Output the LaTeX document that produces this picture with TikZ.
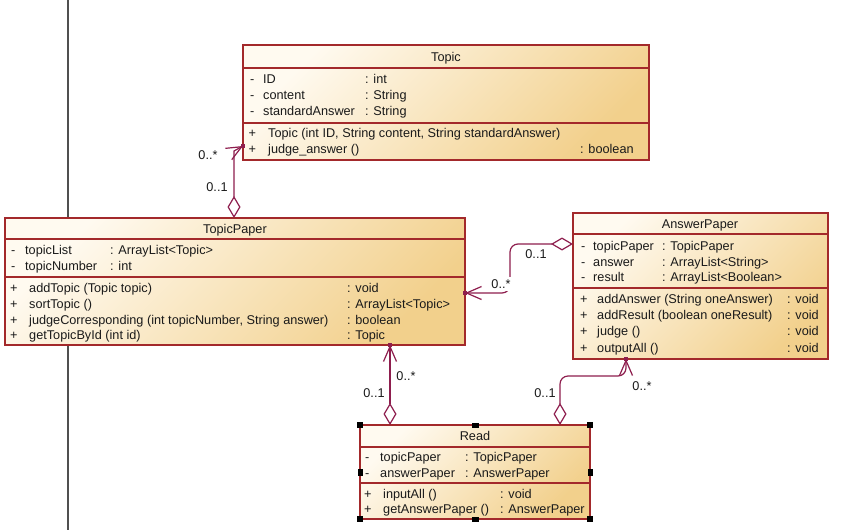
\documentclass[tikz,border=0pt]{standalone}
\usepackage{fontspec}
\setmainfont{Liberation Sans}
\usetikzlibrary{arrows.meta,calc}
\definecolor{bord}{HTML}{A3292B}
\definecolor{lnk}{HTML}{8E1E4E}
\definecolor{fillA}{HTML}{FFFAF0}
\definecolor{fillB}{HTML}{F2D08C}
\definecolor{txtc}{HTML}{1A1A1A}
\definecolor{vline}{HTML}{505050}
\begin{document}
\begin{tikzpicture}[x=1pt,y=-1pt,
  cls/.style={draw=bord, line width=1.3pt, top color=fillA, bottom color=fillB, shading angle=45, anchor=north west, inner sep=0pt, outer sep=0pt},
  sepline/.style={draw=bord, line width=1.3pt},
  t/.style={anchor=base west, inner sep=0pt, font=\fontsize{12.7}{14}\selectfont, text=txtc},
  hd/.style={anchor=base, inner sep=0pt, font=\fontsize{12.7}{14}\selectfont, text=txtc},
  lab/.style={anchor=center, inner sep=1pt, font=\fontsize{12.7}{14}\selectfont, text=txtc},
  agg/.style={draw=lnk, line width=1.2pt, rounded corners=8pt,
    {Diamond[fill=white,length=22pt,width=13pt]}-{Straight Barb[length=15pt,width=13pt]}},
  tipmark/.style={fill=lnk},
  handle/.style={fill=black}
]
\useasboundingbox (0,0) rectangle (842,530);
\fill[white] (0,0) rectangle (842,530);

% vertical gray line
\coordinate (vtop) at (68,0);
\coordinate (vbot) at (68,530);
\draw[vline, line width=1.4pt] (vtop) -- (vbot);

% ---------- Topic ----------
\node[cls, minimum width=406pt, minimum height=115pt] (T) at (243,45) {};
\draw[sepline] ($(T.north west)+(0,23)$) -- ($(T.north east)+(0,23)$);
\draw[sepline] ($(T.north west)+(0,78)$) -- ($(T.north east)+(0,78)$);
\node[hd] (Th) at (446,61.5) {Topic};
\node[t] (Ta1m) at (250,83.5) {-};
\node[t] (Ta1n) at (263,83.5) {ID};
\node[t] (Ta1t) at (365,83.5) {: int};
\node[t] (Ta2m) at (250,99.5) {-};
\node[t] (Ta2n) at (263,99.5) {content};
\node[t] (Ta2t) at (365,99.5) {: String};
\node[t] (Ta3m) at (250,115.5) {-};
\node[t] (Ta3n) at (263,115.5) {standardAnswer};
\node[t] (Ta3t) at (365,115.5) {: String};
\node[t] (Tm1p) at (248.5,137.5) {+};
\node[t] (Tm1n) at (268,137.5) {Topic (int ID, String content, String standardAnswer)};
\node[t] (Tm2p) at (248.5,153) {+};
\node[t] (Tm2n) at (268,153) {judge\_answer ()};
\node[t] (Tm2t) at (580,153) {: boolean};

% ---------- TopicPaper ----------
\node[cls, minimum width=460pt, minimum height=127pt] (TP) at (5,218) {};
\draw[sepline] ($(TP.north west)+(0,21)$) -- ($(TP.north east)+(0,21)$);
\draw[sepline] ($(TP.north west)+(0,59)$) -- ($(TP.north east)+(0,59)$);
\node[hd] (TPh) at (235,233.5) {TopicPaper};
\node[t] (TPa1m) at (11,254.5) {-};
\node[t] (TPa1n) at (25,254.5) {topicList};
\node[t] (TPa1t) at (110,254.5) {: ArrayList<Topic>};
\node[t] (TPa2m) at (11,270.5) {-};
\node[t] (TPa2n) at (25,270.5) {topicNumber};
\node[t] (TPa2t) at (110,270.5) {: int};
\node[t] (TPm1p) at (10,292.8) {+};
\node[t] (TPm1n) at (29,292.8) {addTopic (Topic topic)};
\node[t] (TPm1t) at (347,292.8) {: void};
\node[t] (TPm2p) at (10,308.6) {+};
\node[t] (TPm2n) at (29,308.6) {sortTopic ()};
\node[t] (TPm2t) at (347,308.6) {: ArrayList<Topic>};
\node[t] (TPm3p) at (10,324) {+};
\node[t] (TPm3n) at (29,324) {judgeCorresponding (int topicNumber, String answer)};
\node[t] (TPm3t) at (347,324) {: boolean};
\node[t] (TPm4p) at (10,339.6) {+};
\node[t] (TPm4n) at (29,339.6) {getTopicById (int id)};
\node[t] (TPm4t) at (347,339.6) {: Topic};

% ---------- AnswerPaper ----------
\node[cls, minimum width=255pt, minimum height=146pt] (AP) at (573,213) {};
\draw[sepline] ($(AP.north west)+(0,21)$) -- ($(AP.north east)+(0,21)$);
\draw[sepline] ($(AP.north west)+(0,75)$) -- ($(AP.north east)+(0,75)$);
\node[hd] (APh) at (700,228.5) {AnswerPaper};
\node[t] (APa1m) at (581,250.5) {-};
\node[t] (APa1n) at (593,250.5) {topicPaper};
\node[t] (APa1t) at (662,250.5) {: TopicPaper};
\node[t] (APa2m) at (581,266.5) {-};
\node[t] (APa2n) at (593,266.5) {answer};
\node[t] (APa2t) at (662,266.5) {: ArrayList<String>};
\node[t] (APa3m) at (581,281.8) {-};
\node[t] (APa3n) at (593,281.8) {result};
\node[t] (APa3t) at (662,281.8) {: ArrayList<Boolean>};
\node[t] (APm1p) at (580,303.5) {+};
\node[t] (APm1n) at (597,303.5) {addAnswer (String oneAnswer)};
\node[t] (APm1t) at (787,303.5) {: void};
\node[t] (APm2p) at (580,319.5) {+};
\node[t] (APm2n) at (597,319.5) {addResult (boolean oneResult)};
\node[t] (APm2t) at (787,319.5) {: void};
\node[t] (APm3p) at (580,335.5) {+};
\node[t] (APm3n) at (597,335.5) {judge ()};
\node[t] (APm3t) at (787,335.5) {: void};
\node[t] (APm4p) at (580,352) {+};
\node[t] (APm4n) at (597,352) {outputAll ()};
\node[t] (APm4t) at (787,352) {: void};

% ---------- Read ----------
\node[cls, minimum width=230pt, minimum height=94pt] (R) at (360,425) {};
\draw[sepline] ($(R.north west)+(0,22)$) -- ($(R.north east)+(0,22)$);
\draw[sepline] ($(R.north west)+(0,58)$) -- ($(R.north east)+(0,58)$);
\node[hd] (Rh) at (475,440.5) {Read};
\node[t] (Ra1m) at (365,461.5) {-};
\node[t] (Ra1n) at (380,461.5) {topicPaper};
\node[t] (Ra1t) at (465,461.5) {: TopicPaper};
\node[t] (Ra2m) at (365,477.5) {-};
\node[t] (Ra2n) at (380,477.5) {answerPaper};
\node[t] (Ra2t) at (465,477.5) {: AnswerPaper};
\node[t] (Rm1p) at (364,498.5) {+};
\node[t] (Rm1n) at (383,498.5) {inputAll ()};
\node[t] (Rm1t) at (500,498.5) {: void};
\node[t] (Rm2p) at (364,513.5) {+};
\node[t] (Rm2n) at (383,513.5) {getAnswerPaper ()};
\node[t] (Rm2t) at (500,513.5) {: AnswerPaper};

% ---------- connectors ----------
% TopicPaper <>-> Topic
\coordinate (c1s) at ($(TP.north west)+(229,0)$);
\coordinate (c1e) at ($(T.north west)+(0,101)$);
\coordinate (c1a) at ($(c1e)+(-9,5)$);
\draw[agg, rounded corners=0pt] (c1s) -- (c1a) -- (c1e);
\node[lab] (l1a) at (208,155) {0..*};
\node[lab] (l1b) at (217,187) {0..1};

% AnswerPaper <>-> TopicPaper
\coordinate (c2s) at ($(AP.north west)+(0,31)$);
\coordinate (c2e) at ($(TP.north east)+(0,75)$);
\coordinate (c2a) at ($(c2s)+(-63,0)$);
\coordinate (c2b) at ($(c2a)+(0,49)$);
\draw[agg] (c2s) -- (c2a) -- (c2b) -- (c2e);
\node[lab] (l2a) at (536,254) {0..1};
\node[lab, fill=white, inner sep=2.5pt] (l2b) at (501,284) {0..*};

% Read <>-> TopicPaper
\coordinate (c3s) at ($(R.north west)+(30,0)$);
\coordinate (c3e) at ($(TP.south west)+(385,0)$);
\draw[agg] (c3s) -- (c3e);
\node[lab] (l3a) at (406,376) {0..*};
\node[lab] (l3b) at (374,393) {0..1};

% Read <>-> AnswerPaper
\coordinate (c4s) at ($(R.north west)+(200,0)$);
\coordinate (c4e) at ($(AP.south west)+(53,0)$);
\coordinate (c4a) at ($(c4s)+(0,-49)$);
\coordinate (c4b) at ($(c4e)+(0,17)$);
\draw[agg] (c4s) -- (c4a) -- (c4b) -- (c4e);
\node[lab] (l4a) at (545,393) {0..1};
\node[lab] (l4b) at (642,386) {0..*};

% tip marks
\foreach \p in {c1e,c2e,c3e,c4e}{
  \fill[tipmark] ($(\p)+(-1.6,-1.6)$) rectangle ($(\p)+(1.6,1.6)$);
}

% selection handles on Read
\foreach \a in {north west,north east,south west,south east}{
  \fill[handle] ($(R.\a)+(-3,-3)$) rectangle ($(R.\a)+(3,3)$);
}
\foreach \a in {north,south}{
  \fill[handle] ($(R.\a)+(-3.5,-2.5)$) rectangle ($(R.\a)+(3.5,2.5)$);
}
\foreach \a in {west,east}{
  \fill[handle] ($(R.\a)+(-2.5,-3.5)$) rectangle ($(R.\a)+(2.5,3.5)$);
}
\end{tikzpicture}
\end{document}
